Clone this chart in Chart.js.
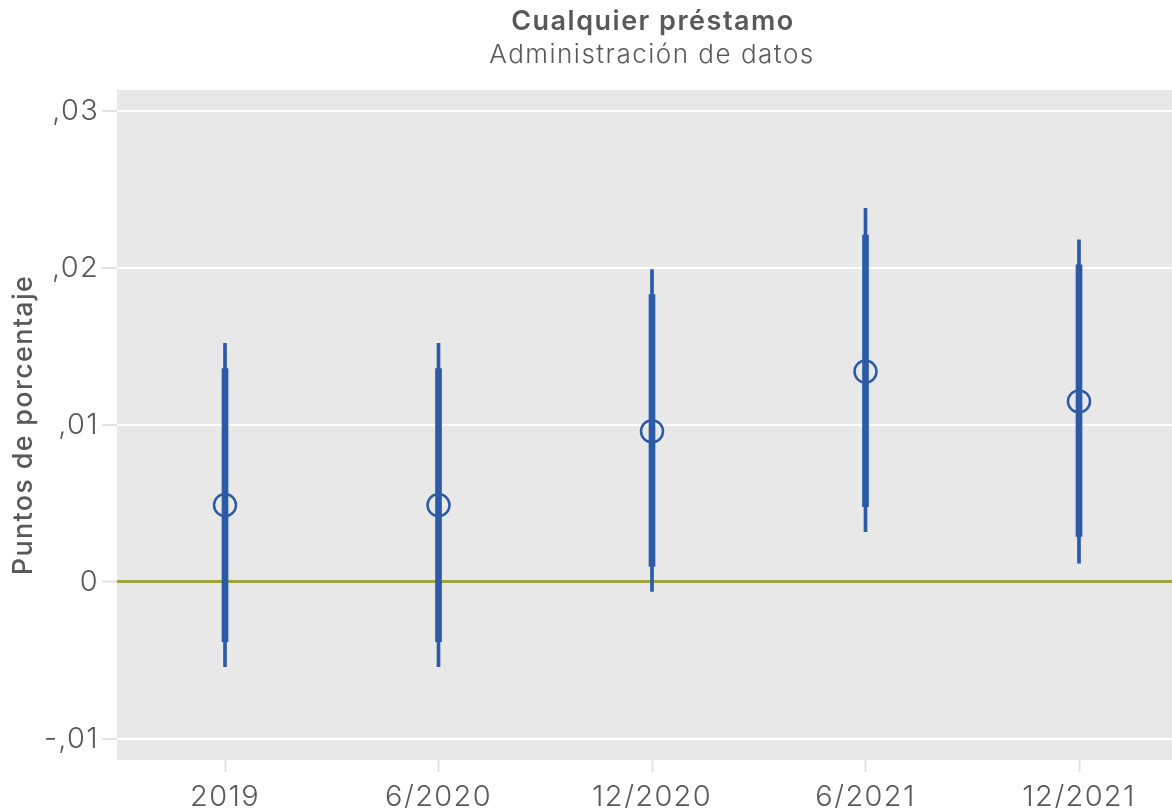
<!DOCTYPE html>
<html lang="es">
<head>
  <meta charset="UTF-8" />
  <title>Cualquier préstamo</title>
  <script src="https://cdn.jsdelivr.net/npm/chart.js"></script>
  <style>
    *{margin:0;padding:0;box-sizing:border-box}
    body,html{width:1172px;height:808px;background:#fff;overflow:hidden}
    .wrap{width:1172px;height:808px;position:relative}
  </style>
</head>
<body>
  <div class="wrap"><canvas id="chart" width="1172" height="808"></canvas></div>

  <script>
    // categories on the x axis
    const periods = ['2019', '6/2020', '12/2020', '6/2021', '12/2021'];
    // point estimates
    const estimate = [0.0049, 0.0049, 0.0096, 0.0134, 0.0115];
    // inner (thick) interval
    const innerLow  = [-0.0038, -0.0038, 0.0010, 0.0048, 0.0029];
    const innerHigh = [0.0136, 0.0136, 0.0183, 0.0221, 0.0202];
    // outer (thin) interval
    const outerLow  = [-0.0054, -0.0054, -0.0006, 0.0032, 0.0012];
    const outerHigh = [0.0152, 0.0152, 0.0199, 0.0238, 0.0218];
    // y tick values and their labels
    const yTicks = [-0.01, 0, 0.01, 0.02, 0.03];
    const yTickLabels = ['-,01', '0', ',01', ',02', ',03'];

    const BLUE = '#2b5aa7';
    const TEXT = '#595959';
    const FONT = "Inter, sans-serif";

    // grey plot panel; also widens lettering a bit (the original face is wide)
    const plotBg = {
      id: 'plotBg',
      beforeDraw(chart) {
        const {ctx, chartArea: a} = chart;
        ctx.save();
        ctx.fillStyle = '#e8e8e8';
        ctx.fillRect(a.left, a.top, a.right - a.left, a.bottom - a.top);
        ctx.restore();
        ctx.letterSpacing = '1.3px';
      }
    };

    const titles = {
      id: 'titles',
      afterDraw(chart) {
        const ctx = chart.ctx;
        ctx.save();
        ctx.fillStyle = TEXT;
        ctx.textAlign = 'center';
        ctx.textBaseline = 'middle';
        ctx.letterSpacing = '1.5px';
        ctx.font = "600 27px " + FONT;
        ctx.fillText('Cualquier préstamo', 653, 22);
        ctx.font = "300 26px " + FONT;
        ctx.fillText('Administración de datos', 652, 55);
        ctx.restore();
      }
    };

    const xy = (lo, hi) => periods.map((_, i) => ({x: i, y: [lo[i], hi[i]]}));

    new Chart(document.getElementById('chart'), {
      type: 'bar',
      data: {
        datasets: [
          {
            type: 'scatter',
            data: estimate.map((v, i) => ({x: i, y: v})),
            pointStyle: 'circle',
            pointRadius: 11,
            pointBorderWidth: 2.5,
            borderColor: BLUE,
            backgroundColor: 'rgba(0,0,0,0)',
            order: 0
          },
          {
            data: xy(innerLow, innerHigh),
            backgroundColor: BLUE,
            barThickness: 6,
            grouped: false,
            order: 1
          },
          {
            data: xy(outerLow, outerHigh),
            backgroundColor: BLUE,
            barThickness: 3,
            grouped: false,
            order: 2
          }
        ]
      },
      options: {
        responsive: false,
        animation: false,
        layout: {autoPadding: false, padding: {top: 90, right: 0, left: 0, bottom: 0}},
        plugins: {legend: {display: false}, tooltip: {enabled: false}, title: {display: false}},
        scales: {
          x: {
            type: 'linear',
            offset: false,
            min: -0.5059,
            max: 4.4356,
            afterBuildTicks: s => { s.ticks = periods.map((_, i) => ({value: i})); },
            afterFit: s => { s.height = 48; s.paddingRight = 0; s.paddingLeft = 0; },
            border: {display: false},
            grid: {offset: false, drawOnChartArea: false, drawTicks: true, tickLength: 12, tickColor: '#e3e3e3', tickWidth: 2},
            ticks: {
              padding: 8,
              color: TEXT,
              font: {family: FONT, size: 29, weight: 300},
              maxRotation: 0,
              callback: v => periods[v]
            }
          },
          y: {
            min: -0.011338,
            max: 0.031338,
            afterBuildTicks: s => { s.ticks = yTicks.map(v => ({value: v})); },
            afterFit: s => { s.width = 117; },
            border: {display: false},
            grid: {
              color: c => c.tick && c.tick.value === 0 ? '#a0a33a' : '#ffffff',
              lineWidth: c => c.tick && c.tick.value === 0 ? 3 : 2,
              tickColor: '#e3e3e3',
              tickLength: 15,
              tickWidth: 2
            },
            ticks: {
              padding: 3,
              color: TEXT,
              font: {family: FONT, size: 29, weight: 300},
              callback: v => yTickLabels[yTicks.indexOf(v)]
            },
            title: {
              display: true,
              text: 'Puntos de porcentaje',
              color: TEXT,
              font: {family: FONT, size: 27, weight: 500},
              padding: {top: 8, bottom: 0}
            }
          }
        }
      },
      plugins: [plotBg, titles]
    });
  </script>
</body>
</html>
